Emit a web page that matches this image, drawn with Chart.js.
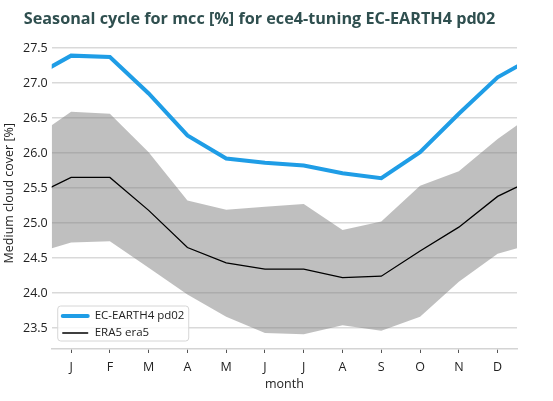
<!DOCTYPE html>
<html>
<head>
<meta charset="utf-8">
<script src="https://cdn.jsdelivr.net/npm/chart.js@4/dist/chart.umd.min.js"></script>
<style>
  html, body { margin: 0; padding: 0; background: #fff; }
  #wrap { width: 553px; height: 401px; }
</style>
</head>
<body>
<div id="wrap"><canvas id="myChart" width="553" height="401"></canvas></div>
<script>
// months, with Dec repeated in front and Jan at the end so the cycle wraps
var monthLabels = ['J', 'F', 'M', 'A', 'M', 'J', 'J', 'A', 'S', 'O', 'N', 'D'];
var monthPos = [0, 1, 2, 3, 4, 5, 6, 7, 8, 9, 10, 11, 12, 13];

var model = [27.08, 27.39, 27.37, 26.85, 26.25, 25.92, 25.86, 25.82, 25.71, 25.64, 26.01, 26.56, 27.08, 27.39];
var era5 = [25.38, 25.65, 25.65, 25.18, 24.65, 24.43, 24.34, 24.34, 24.22, 24.24, 24.60, 24.94, 25.38, 25.65];
var era5Upper = [26.20, 26.59, 26.56, 26.01, 25.32, 25.19, 25.23, 25.27, 24.90, 25.02, 25.53, 25.74, 26.20, 26.59];
var era5Lower = [24.56, 24.72, 24.74, 24.36, 23.98, 23.66, 23.43, 23.41, 23.54, 23.46, 23.66, 24.16, 24.56, 24.72];

var yTicks = [23.5, 24.0, 24.5, 25.0, 25.5, 26.0, 26.5, 27.0, 27.5];

function pts(arr) {
    return monthPos.map(function(m, i){ return {x: m, y: arr[i]}; });
}

// legend drawn inside the plot, lower left
var innerLegend = {
    id: 'innerLegend',
    afterDraw: function(chart) {
        var ctx = chart.ctx;
        var a = chart.chartArea;
        var items = chart.data.datasets.filter(function(d){ return d.showInLegend; });
        var x = a.left + 6, y = a.bottom - 43, w = 131, h = 35;
        ctx.save();
        ctx.beginPath();
        ctx.roundRect(x, y, w, h, 3);
        ctx.fillStyle = 'rgba(255,255,255,0.8)';
        ctx.fill();
        ctx.strokeStyle = '#d6d6d6';
        ctx.lineWidth = 1;
        ctx.stroke();
        ctx.font = '11.5px "Open Sans", sans-serif';
        ctx.textBaseline = 'middle';
        items.forEach(function(d, i){
            var ly = y + 10 + i * 17;
            ctx.beginPath();
            ctx.moveTo(x + 5, ly);
            ctx.lineTo(x + 30, ly);
            ctx.strokeStyle = d.borderColor;
            ctx.lineWidth = d.borderWidth;
            ctx.lineCap = 'round';
            ctx.stroke();
            ctx.fillStyle = '#222';
            ctx.fillText(d.label, x + 37, ly);
        });
        ctx.restore();
    }
};

var dataObj = {
    type: 'line',
    data: {
        datasets: [{
            label: 'EC-EARTH4 pd02',
            data: pts(model),
            borderColor: '#1f9de6',
            borderWidth: 4,
            pointRadius: 0,
            fill: false,
            clip: 0,
            order: 0,
            showInLegend: true
        }, {
            label: 'ERA5 era5',
            data: pts(era5),
            borderColor: '#000000',
            borderWidth: 1.3,
            pointRadius: 0,
            fill: false,
            clip: 0,
            order: 1,
            showInLegend: true
        }, {
            label: 'lower',
            data: pts(era5Lower),
            borderWidth: 0,
            borderColor: 'rgba(0,0,0,0)',
            pointRadius: 0,
            fill: false,
            clip: 0,
            order: 3
        }, {
            label: 'upper',
            data: pts(era5Upper),
            borderWidth: 0,
            borderColor: 'rgba(0,0,0,0)',
            backgroundColor: 'rgba(128,128,128,0.5)',
            pointRadius: 0,
            fill: '-1',
            clip: 0,
            order: 2
        }]
    },
    options: {
        responsive: false,
        animation: false,
        layout: { padding: { left: 2, right: 36, top: 0, bottom: 9 } },
        plugins: {
            legend: { display: false },
            tooltip: { enabled: false },
            title: {
                display: true,
                text: 'Seasonal cycle for mcc [%] for ece4-tuning EC-EARTH4 pd02',
                color: '#2f4f4f',
                font: { family: '"Open Sans", sans-serif', size: 16.2, weight: 'bold' },
                padding: { top: 10, bottom: 8 }
            }
        },
        scales: {
            x: {
                type: 'linear',
                min: 0.5,
                max: 12.5,
                afterBuildTicks: function(axis) {
                    axis.ticks = monthLabels.map(function(l, i){ return {value: i + 1}; });
                },
                ticks: {
                    autoSkip: false,
                    maxRotation: 0,
                    color: '#222',
                    padding: 7,
                    font: { family: '"Open Sans", sans-serif', size: 12.5 },
                    callback: function(v) { return monthLabels[v - 1]; }
                },
                grid: { drawOnChartArea: false, drawTicks: true, tickLength: 4, color: '#555' },
                border: { display: true, color: '#d4d4d4', width: 1.5 },
                title: {
                    display: true,
                    text: 'month',
                    color: '#222',
                    font: { family: '"Open Sans", sans-serif', size: 12.5 },
                    padding: { top: -5, bottom: 0 }
                }
            },
            y: {
                min: 23.2,
                max: 27.65,
                afterBuildTicks: function(axis) {
                    axis.ticks = yTicks.map(function(v){ return {value: v}; });
                },
                ticks: {
                    color: '#222',
                    padding: 4,
                    font: { family: '"Open Sans", sans-serif', size: 12.5 },
                    callback: function(v) { return v.toFixed(1); }
                },
                grid: { drawTicks: false, color: '#d9d9d9', lineWidth: 1.5 },
                border: { display: false },
                title: {
                    display: true,
                    text: 'Medium cloud cover [%]',
                    color: '#222',
                    font: { family: '"Open Sans", sans-serif', size: 12.5 },
                    padding: { top: 0, bottom: 2 }
                }
            }
        }
    },
    plugins: [innerLegend]
};

var ctx = document.getElementById('myChart').getContext('2d');
window.myLine = new Chart(ctx, dataObj);
</script>
</body>
</html>
